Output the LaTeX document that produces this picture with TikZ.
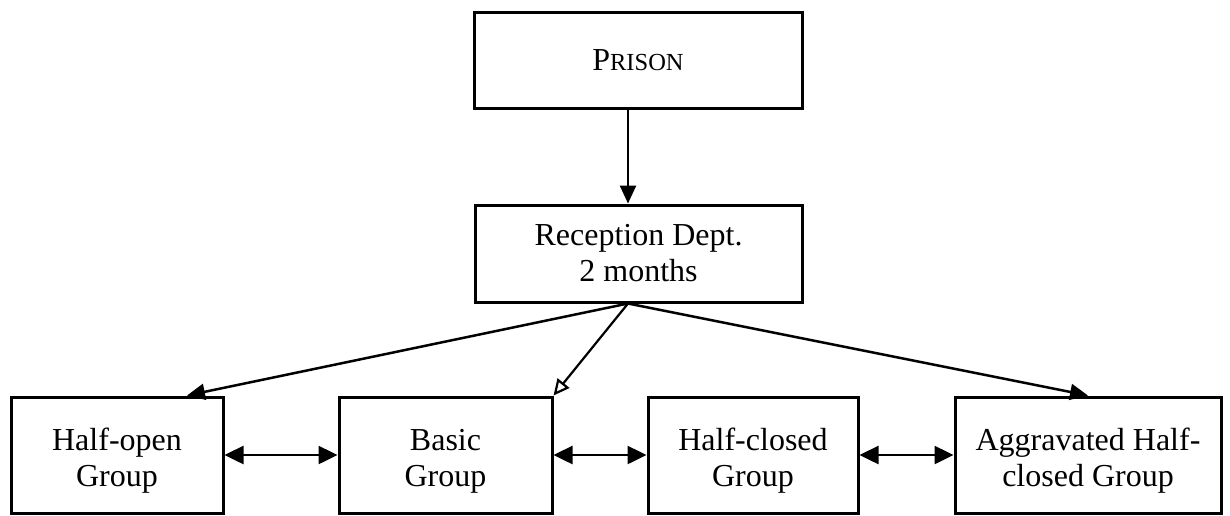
\documentclass[tikz,border=0pt]{standalone}
\usepackage{fontspec}
\setmainfont{Liberation Serif}
\usetikzlibrary{arrows.meta}
\newcommand{\lowtwo}[1]{\raisebox{-6pt}[\height][\depth]{\begin{tabular}{@{}c@{}}#1\end{tabular}}}
\tikzset{
  box/.style={draw, line width=3pt, inner sep=0pt, align=center,
    font=\fontsize{32}{36}\selectfont},
  conn/.style={line width=2.5pt, -{Triangle[length=18pt,width=16pt]}},
  dconn/.style={line width=2.5pt, {Triangle[length=19pt,width=18pt]}-{Triangle[length=19pt,width=18pt]}},
  hconn/.style={line width=2.2pt, -{Triangle[open,length=16pt,width=15pt,fill=white,line width=2.2pt]}}
}
\begin{document}
\begin{tikzpicture}[x=1pt,y=-1pt]
\useasboundingbox (0,0) rectangle (1230,515);
\node[box, minimum width=328pt, minimum height=96pt] (prison) at (638,60)
  {P{\fontsize{24.5}{28}\selectfont RISON}};
\node[box, minimum width=327pt, minimum height=97pt] (recep) at (638.5,253.5)
  {Reception Dept.\\2 months};
\node[box, minimum width=212pt, minimum height=116pt] (hopen) at (117,455)
  {\lowtwo{Half-open\\Group}};
\node[box, minimum width=213pt, minimum height=116pt] (basic) at (445.5,455)
  {\lowtwo{Basic\\Group}};
\node[box, minimum width=210pt, minimum height=116pt] (hclosed) at (753,455)
  {\lowtwo{Half-closed\\Group}};
\node[box, minimum width=266pt, minimum height=116pt] (aggr) at (1088,455)
  {\lowtwo{Aggravated Half-\\closed Group}};
\coordinate (v) at (628,0);
\coordinate (ta) at (187,0);
\coordinate (tc) at (1088,0);
\draw[conn] (prison.south -| v) -- (recep.north -| v);
\draw[conn] (recep.south -| v) -- (hopen.north -| ta);
\draw[hconn] (recep.south -| v) -- (basic.north east);
\draw[conn] (recep.south -| v) -- (aggr.north -| tc);
\draw[dconn] (hopen.east) -- (basic.west);
\draw[dconn] (basic.east) -- (hclosed.west);
\draw[dconn] (hclosed.east) -- (aggr.west);
\end{tikzpicture}
\end{document}
